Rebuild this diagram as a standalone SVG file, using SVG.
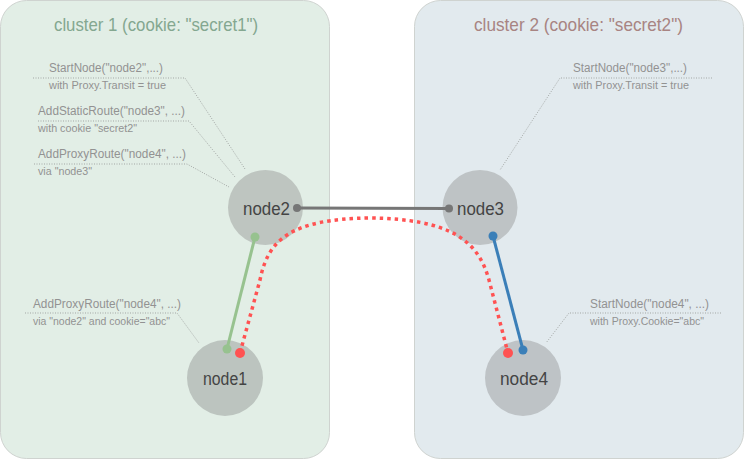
<svg xmlns="http://www.w3.org/2000/svg" width="744" height="459" viewBox="0 0 744 459">
<defs>
<style>
text{font-family:"Liberation Sans",Arial,sans-serif}
.cl{stroke:#cfd3d0;stroke-width:1}
.title{font-size:19px}
.ann{font-size:12.5px;fill:#929292}
.sub{font-size:10.5px;fill:#929292}
.lead{fill:none;stroke:#a3a7a5;stroke-width:1;stroke-dasharray:1 1.5}
.node circle{stroke:none}
.lbl{font-size:18px;fill:#444444;text-anchor:middle}
</style>
</defs>
<rect width="744" height="459" fill="#ffffff"/>
<g id="cluster1">
<rect class="cl" x="0.5" y="0.5" width="329" height="458" rx="26" fill="#e2eee6"/>
<text class="title" x="54" y="31" fill="#84a790" textLength="204" lengthAdjust="spacingAndGlyphs">cluster 1 (cookie: "secret1")</text>
</g>
<g id="cluster2">
<rect class="cl" x="414.5" y="0.5" width="329" height="458" rx="26" fill="#e2eaee"/>
<text class="title" x="474" y="31" fill="#a88482" textLength="209" lengthAdjust="spacingAndGlyphs">cluster 2 (cookie: "secret2")</text>
</g>
<g id="annotations">
<text class="ann" x="49" y="72" textLength="114" lengthAdjust="spacingAndGlyphs">StartNode("node2",...)</text>
<text class="sub" x="49" y="89" textLength="117" lengthAdjust="spacingAndGlyphs">with Proxy.Transit = true</text>
<polyline class="lead" points="33,78 185,78 245,169"/>
<text class="ann" x="38" y="115" textLength="147" lengthAdjust="spacingAndGlyphs">AddStaticRoute("node3", ...)</text>
<text class="sub" x="38" y="132" textLength="99" lengthAdjust="spacingAndGlyphs">with cookie "secret2"</text>
<polyline class="lead" points="38,121 189,121 235,177"/>
<text class="ann" x="38" y="158" textLength="148" lengthAdjust="spacingAndGlyphs">AddProxyRoute("node4", ...)</text>
<text class="sub" x="38" y="175" textLength="54" lengthAdjust="spacingAndGlyphs">via "node3"</text>
<polyline class="lead" points="34,164 187,164 229,187"/>
<text class="ann" x="573" y="72" textLength="114" lengthAdjust="spacingAndGlyphs">StartNode("node3",...)</text>
<text class="sub" x="573" y="89" textLength="116" lengthAdjust="spacingAndGlyphs">with Proxy.Transit = true</text>
<polyline class="lead" points="712,78 560,78 500,170"/>
<text class="ann" x="33" y="308" textLength="148" lengthAdjust="spacingAndGlyphs">AddProxyRoute("node4", ...)</text>
<text class="sub" x="33" y="325" textLength="137" lengthAdjust="spacingAndGlyphs">via "node2" and cookie="abc"</text>
<polyline class="lead" points="25,313 177,313 199,343"/>
<text class="ann" x="590" y="308" textLength="119" lengthAdjust="spacingAndGlyphs">StartNode("node4", ...)</text>
<text class="sub" x="590" y="325" textLength="114" lengthAdjust="spacingAndGlyphs">with Proxy.Cookie="abc"</text>
<polyline class="lead" points="721,313 569,313 546,343"/>
</g>
<g id="node2" class="node"><circle cx="265.5" cy="207.5" r="37.5" fill="#bec5c0"/><text class="lbl" x="266.5" y="215" textLength="47" lengthAdjust="spacingAndGlyphs">node2</text></g>
<g id="node3" class="node"><circle cx="480" cy="207.5" r="37.5" fill="#bec3c5"/><text class="lbl" x="480.5" y="215" textLength="47" lengthAdjust="spacingAndGlyphs">node3</text></g>
<g id="node1" class="node"><circle cx="225" cy="378" r="38" fill="#bcc4bf"/><text class="lbl" x="225" y="385" textLength="44" lengthAdjust="spacingAndGlyphs">node1</text></g>
<g id="node4" class="node"><circle cx="523" cy="378" r="38" fill="#bec3c6"/><text class="lbl" x="524" y="385" textLength="48" lengthAdjust="spacingAndGlyphs">node4</text></g>
<g id="connectors">
<line x1="297" y1="208" x2="449" y2="208.5" stroke="#767676" stroke-width="3"/>
<circle cx="297" cy="208" r="4" fill="#767676"/>
<circle cx="449" cy="208.5" r="4" fill="#767676"/>
<line x1="255" y1="237" x2="227" y2="349" stroke="#97c28f" stroke-width="3"/>
<circle cx="255" cy="237" r="4.5" fill="#97c28f"/>
<circle cx="227" cy="349" r="4.5" fill="#97c28f"/>
<line x1="493" y1="236" x2="523" y2="350" stroke="#3b7fb8" stroke-width="3"/>
<circle cx="493" cy="236" r="4.5" fill="#3b7fb8"/>
<circle cx="523" cy="350" r="4.5" fill="#3b7fb8"/>
<path d="M240,353 L260,280 C268,240 290,219 370,218 C450,219 478,240 489,280 L508,353" fill="none" stroke="#ff5252" stroke-width="3.5" stroke-dasharray="3.5 4"/>
<circle cx="240" cy="353" r="5" fill="#ff5252"/>
<circle cx="508" cy="353" r="5" fill="#ff5252"/>
</g>
</svg>
